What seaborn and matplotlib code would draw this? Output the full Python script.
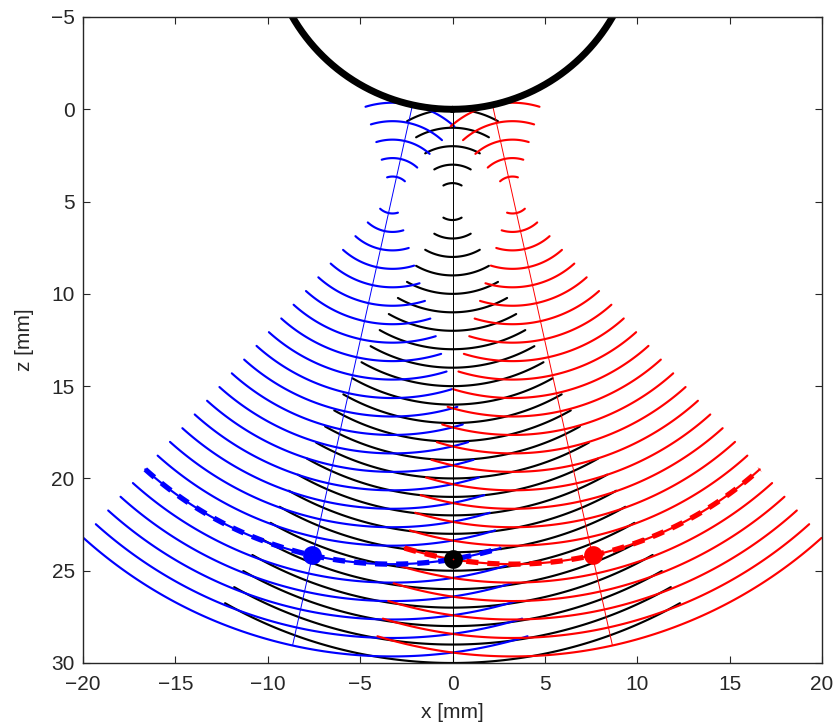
import numpy as np
import pandas as pd
import matplotlib
matplotlib.use('Agg')
import matplotlib.pyplot as plt
import seaborn as sns

# ---------------- data ----------------
probe_center_x = 0.0          # mm
probe_center_z = -10.0        # mm
probe_radius = 10.0           # mm
focal_distance = 15.0         # distance of the focal points from the probe centre
steer_angles_deg = [0.0, -12.5, 12.5]          # centre, left, right beams
beam_names = ['centre', 'left', 'right']
beam_colors = ['black', 'blue', 'red']
arc_half_span_deg = 29.5                        # angular half-width of every wavefront
wavefront_radii = [-5, -4, -3, -2, -1, 1, 2, 3, 4, 5, 6, 7, 8, 9, 10, 11, 12,
                   13, 14, 15, 16, 17, 18, 19, 20, 21, 22, 23, 24, 25]
ray_start_r = 10.0            # beam axis drawn from probe surface ...
ray_end_r = 40.0              # ... to this distance from the probe centre
dashed_radius = 20.0          # highlighted wavefront (left / right beams)
dot_x = [-7.58, 0.0, 7.58]
dot_z = [24.17, 24.37, 24.17]
dot_colors = ['blue', 'black', 'red']

x_ticks = [-20, -15, -10, -5, 0, 5, 10, 15, 20]
z_ticks = [-5, 0, 5, 10, 15, 20, 25, 30]

# ---------------- build tables ----------------
t = np.radians(np.linspace(-arc_half_span_deg, arc_half_span_deg, 121))

def focus(phi_deg):
    p = np.radians(phi_deg)
    return (probe_center_x + focal_distance * np.sin(p),
            probe_center_z + focal_distance * np.cos(p))

rows = []
for name, phi in zip(beam_names, steer_angles_deg):
    fx, fz = focus(phi)
    p = np.radians(phi)
    for r in wavefront_radii:
        xs = fx + r * np.sin(p + t)
        zs = fz + r * np.cos(p + t)
        for k, (xx, zz) in enumerate(zip(xs, zs)):
            rows.append((name, f'{name}_{r}', k, xx, zz))
arcs = pd.DataFrame(rows, columns=['beam', 'arc', 'k', 'x', 'z'])

ray_rows = []
for name, phi in zip(beam_names, steer_angles_deg):
    p = np.radians(phi)
    for k, rr in enumerate([ray_start_r, ray_end_r]):
        ray_rows.append((name, k, probe_center_x + rr * np.sin(p),
                         probe_center_z + rr * np.cos(p)))
rays = pd.DataFrame(ray_rows, columns=['beam', 'k', 'x', 'z'])

dash_rows = []
for name, phi in zip(beam_names[1:], steer_angles_deg[1:]):
    fx, fz = focus(phi)
    p = np.radians(phi)
    xs = fx + dashed_radius * np.sin(p + t)
    zs = fz + dashed_radius * np.cos(p + t)
    for k, (xx, zz) in enumerate(zip(xs, zs)):
        dash_rows.append((name, k, xx, zz))
dashed = pd.DataFrame(dash_rows, columns=['beam', 'k', 'x', 'z'])

a = np.linspace(0, 2 * np.pi, 721)
probe = pd.DataFrame({'x': probe_center_x + probe_radius * np.sin(a),
                      'z': probe_center_z + probe_radius * np.cos(a)})

dots = pd.DataFrame({'x': dot_x, 'z': dot_z, 'c': dot_colors})

# ---------------- plotting ----------------
sns.set_style('ticks')
plt.rcParams['font.family'] = ['Liberation Sans', 'DejaVu Sans']

fig = plt.figure(figsize=(8.4, 7.26), dpi=100)
ax = fig.add_axes([83 / 840, 1 - 663 / 726, 739 / 840, 646 / 726])

for name, col in zip(beam_names, beam_colors):
    sns.lineplot(data=arcs[arcs.beam == name], x='x', y='z', units='arc',
                 estimator=None, sort=False, color=col, linewidth=1.55,
                 legend=False, ax=ax)

for name, col in zip(beam_names, beam_colors):
    sns.lineplot(data=rays[rays.beam == name], x='x', y='z', estimator=None,
                 sort=False, color=col, linewidth=0.7, legend=False, ax=ax)

for name, col in zip(beam_names[1:], beam_colors[1:]):
    sns.lineplot(data=dashed[dashed.beam == name], x='x', y='z', estimator=None,
                 sort=False, color=col, linewidth=3.8, dashes=False,
                 legend=False, ax=ax)
    ax.lines[-1].set_dashes((2.3, 1.7))

sns.lineplot(data=probe, x='x', y='z', estimator=None, sort=False,
             color='black', linewidth=5.0, legend=False, ax=ax)

for _, d in dots.iterrows():
    ax.plot(d.x, d.z, marker='o', markersize=7.5, markeredgewidth=6.0,
            markerfacecolor='none', markeredgecolor=d.c, linestyle='none',
            zorder=5)

ax.set_xlim(-20, 20)
ax.set_ylim(30, -5)
ax.set_xticks(x_ticks)
ax.set_yticks(z_ticks)
ax.tick_params(direction='in', top=True, right=True, length=5, width=0.8,
               labelsize=15, pad=9)
ax.tick_params(axis='y', pad=6)
for s in ax.spines.values():
    s.set_linewidth(1.0)
    s.set_visible(True)
ax.set_xlabel('x [mm]', fontsize=15, labelpad=6)
ax.set_ylabel('z [mm]', fontsize=15, labelpad=12)

fig.savefig('out.png', dpi=100)
